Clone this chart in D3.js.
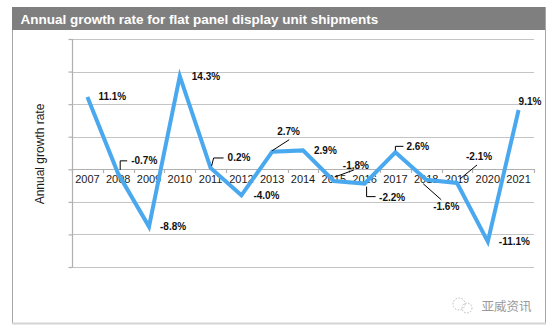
<!DOCTYPE html>
<html><head><meta charset="utf-8">
<script src="https://cdn.jsdelivr.net/npm/d3@7"></script>
<style>html,body{margin:0;padding:0;background:#fff;}svg{display:block;}</style>
</head><body>
<svg id="c" width="554" height="331"></svg>
<script>
const years = ["2007","2008","2009","2010","2011","2012","2013","2014","2015","2016","2017","2018","2019","2020","2021"];
const growth = [11.1,-0.7,-8.8,14.3,0.2,-4.0,2.7,2.9,-1.8,-2.2,2.6,-1.6,-2.1,-11.1,9.1];
const labels = ["11.1%","-0.7%","-8.8%","14.3%","0.2%","-4.0%","2.7%","2.9%","-1.8%","-2.2%","2.6%","-1.6%","-2.1%","-11.1%","9.1%"];
const yTicks = [-15,-10,-5,0,5,10,15,20];
const title = "Annual growth rate for flat panel display unit shipments";
const yTitle = "Annual growth rate";
const watermark = "亚威资讯";

// label layout: offsets from point, optional leader path (relative)
const layout = [
  {dx:11,dy:0},
  {dx:13,dy:-13,lead:[[2,-4],[2,-13],[9,-13]]},
  {dx:11,dy:0},
  {dx:12,dy:0},
  {dx:17,dy:-10,lead:[[1,-2],[3,-10],[13,-10]]},
  {dx:12,dy:0},
  {dx:5,dy:-20,lead:[[0,-1],[17,-12]]},
  {dx:11,dy:0},
  {dx:9,dy:-16,lead:[[1,-4],[20,-11]]},
  {dx:14.5,dy:13.5,lead:[[2,3],[2,13],[11,13]]},
  {dx:11,dy:-6,lead:[[0,-2],[0,-6],[8,-6]]},
  {dx:7,dy:27,lead:[[-3,4],[15,20]]},
  {dx:9,dy:-26,lead:[[3,-4],[20,-18]]},
  {dx:11,dy:0},
  {dx:0,dy:-9}
];

const svg = d3.select("#c");
const font = "'Liberation Sans', Arial, sans-serif";

// frame
svg.append("rect").attr("x",12).attr("y",7).attr("width",533).attr("height",23).attr("fill","#7f7f7f");
svg.append("line").attr("x1",12.5).attr("x2",12.5).attr("y1",30).attr("y2",323).attr("stroke","#a6a6a6").attr("stroke-width",1);
svg.append("line").attr("x1",545.5).attr("x2",545.5).attr("y1",7).attr("y2",323).attr("stroke","#a6a6a6").attr("stroke-width",1);
svg.append("line").attr("x1",12).attr("x2",546).attr("y1",323.5).attr("y2",323.5).attr("stroke","#d4d4d4").attr("stroke-width",2);
svg.append("text").attr("x",20.5).attr("y",23.5).attr("fill","#fff").attr("font-family",font)
  .attr("font-weight","bold").attr("font-size",13.5).text(title);

const x = d3.scaleBand().domain(years).range([72,534]).padding(0);
const y = d3.scaleLinear().domain([-15,20]).range([267,39]);
const cx = d => x(d) + x.bandwidth()/2;

// gridlines
svg.append("g").selectAll("line").data(yTicks).join("line")
  .attr("x1",72).attr("x2",534).attr("y1",d=>Math.round(y(d))+0.5).attr("y2",d=>Math.round(y(d))+0.5)
  .attr("stroke",d=>d===0?"#b0b0b0":"#c4c4c4").attr("stroke-width",1.2);

// y axis
const yAxis = svg.append("g").attr("transform","translate(72.5,0)")
  .call(d3.axisLeft(y).tickValues(yTicks).tickSize(4).tickFormat(""));
yAxis.selectAll("path,line").attr("stroke","#b0b0b0").attr("stroke-width",1.2);
yAxis.select(".domain").attr("d",`M0,${y(-15)}V${y(20)}`);

// x axis at zero
const xAxis = svg.append("g").attr("transform",`translate(0,${Math.round(y(0))+0.5})`)
  .call(d3.axisBottom(x).tickSize(0).tickPadding(6));
xAxis.select(".domain").remove();
xAxis.selectAll("text").attr("font-family",font).attr("font-size",11).attr("fill","#1a1a1a").attr("dy","0.71em");
// ticks at band boundaries
const bounds = years.map(d=>x(d)).concat([x.range()[1]]);
svg.append("g").selectAll("line").data(bounds).join("line")
  .attr("x1",d=>Math.round(d)+0.5).attr("x2",d=>Math.round(d)+0.5)
  .attr("y1",Math.round(y(0))).attr("y2",Math.round(y(0))+4)
  .attr("stroke","#b0b0b0").attr("stroke-width",1.2);

// y title
svg.append("text").attr("transform",`translate(44,154) rotate(-90)`).attr("text-anchor","middle")
  .attr("font-family",font).attr("font-size",12).attr("fill","#1a1a1a").text(yTitle);

// line
const line = d3.line().x((d,i)=>cx(years[i])).y(d=>y(d));
svg.append("path").datum(growth).attr("d",line).attr("fill","none")
  .attr("stroke","#4aa9ee").attr("stroke-width",4).attr("stroke-linejoin","miter");

// leaders and labels
const g = svg.append("g");
growth.forEach((v,i)=>{
  const px = cx(years[i]), py = y(v), L = layout[i];
  if (L.lead) {
    g.append("path").attr("d","M"+L.lead.map(p=>[px+p[0],py+p[1]].join(",")).join("L"))
      .attr("fill","none").attr("stroke","#000").attr("stroke-width",1);
  }
  g.append("text").attr("x",px+L.dx).attr("y",py+L.dy).attr("dy","0.35em")
    .attr("font-family",font).attr("font-weight","bold").attr("font-size",10).attr("fill","#111")
    .text(labels[i]);
});

// watermark
const wm = svg.append("g").attr("fill","none").attr("stroke","#b8b8b8").attr("stroke-width",1).attr("stroke-dasharray","1.5,1.5");
wm.append("circle").attr("cx",459).attr("cy",304).attr("r",6);
wm.append("circle").attr("cx",467).attr("cy",308).attr("r",5);
svg.append("text").attr("x",481.5).attr("y",311).attr("font-family","'Noto Sans CJK SC'").attr("font-size",12.5)
  .attr("fill","#9a9a9a").text(watermark);
</script>
</body></html>
